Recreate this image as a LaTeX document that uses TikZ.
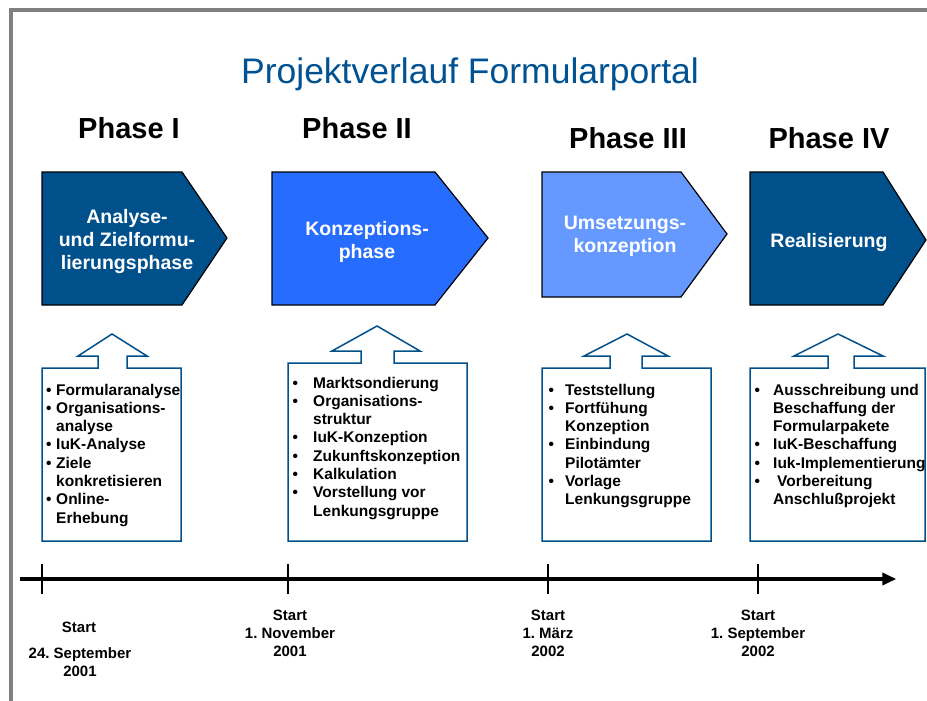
\documentclass[tikz,border=0pt]{standalone}
\usepackage{fontspec}
\setmainfont{Liberation Sans}
\usetikzlibrary{arrows.meta}
\definecolor{phasedark}{RGB}{0,80,140}
\definecolor{phasemid}{RGB}{38,108,255}
\definecolor{phaselight}{RGB}{102,153,255}
\definecolor{titleblue}{RGB}{0,82,147}
\definecolor{framegray}{RGB}{128,128,128}
\frenchspacing

\begin{document}
\begin{tikzpicture}[x=1pt,y=-1pt]
                    \tikzstyle{chevron}=[draw=black,line width=1.2pt,line join=miter]
                    \tikzstyle{callout}=[draw=phasedark,line width=1.5pt,line join=miter]
                    \tikzstyle{phasetext}=[text=white,align=center,inner sep=0pt,font=\fontsize{19.5}{23}\selectfont\bfseries]
                    \tikzstyle{phasehead}=[anchor=base,inner sep=0pt,font=\fontsize{29}{29}\selectfont\bfseries]
                    \tikzstyle{listtext}=[anchor=base west,inner sep=0pt,font=\fontsize{15.5}{18.3}\selectfont\bfseries]
                    \tikzstyle{datetext}=[anchor=base,inner sep=0pt,font=\fontsize{15}{18}\selectfont\bfseries]
                    \tikzstyle{tick}=[line width=1.5pt]

                    \useasboundingbox (0,0) rectangle (927,701);
                    \fill [white] (0,0) rectangle (927,701);
                    \draw [line width=4pt,framegray] (9,10.3) -- (927,10.3);
                    \draw [line width=4pt,framegray] (11,8.3) -- (11,701);

                    \node (title) at (470,83.3) [anchor=base,inner sep=0pt,text=titleblue,font=\fontsize{35.5}{35.5}\selectfont] {Projektverlauf Formularportal};

                    \node (h1) at (129,139) [phasehead] {Phase I};
                    \node (h2) at (357,139) [phasehead] {Phase II};
                    \node (h3) at (628,148) [phasehead] {Phase III};
                    \node (h4) at (829,148) [phasehead] {Phase IV};

                    % phase arrows
                    \draw [chevron,fill=phasedark] (42,172) -- (182,172) -- (227,238) -- (182,305) -- (42,305) -- cycle;
                    \draw [chevron,fill=phasemid] (272,172) -- (435,172) -- (488,238) -- (435,305) -- (272,305) -- cycle;
                    \draw [chevron,fill=phaselight] (542,172) -- (681,172) -- (727,234) -- (681,297) -- (542,297) -- cycle;
                    \draw [chevron,fill=phasedark] (750,172) -- (883,172) -- (926,240) -- (883,305) -- (750,305) -- cycle;

                    \node (p1) at (127,241) [phasetext] {Analyse-\\und Zielformu-\\lierungsphase};
                    \node (p2) at (367,242) [phasetext] {Konzeptions-\\phase};
                    \node (p3) at (625,236) [phasetext] {Umsetzungs-\\konzeption};
                    \node (p4) at (829,247) [phasetext,anchor=base] {Realisierung};

                    % boxes with up arrows
                    \draw [callout] (42,368) -- (42,541) -- (181,541) -- (181,368) -- (127,368) -- (127,356) -- (147,356) -- (112,334) -- (78,356) -- (98,356) -- (98,368) -- cycle;
                    \draw [callout] (288,363) -- (288,541) -- (467,541) -- (467,363) -- (394,363) -- (394,351) -- (420,351) -- (377,326) -- (332,351) -- (361,351) -- (361,363) -- cycle;
                    \draw [callout] (542,368) -- (542,541) -- (711,541) -- (711,368) -- (642,368) -- (642,356) -- (668,356) -- (627,334) -- (584,356) -- (610,356) -- (610,368) -- cycle;
                    \draw [callout] (750,368) -- (750,541) -- (925,541) -- (925,368) -- (854,368) -- (854,356) -- (883,356) -- (838,334) -- (794,356) -- (828,356) -- (828,368) -- cycle;

                    \node (l1) at (46,395) [listtext] {\begin{tabular}[t]{@{}p{10pt}@{}l@{}}
                      \textbullet & Formularanalyse\\
                      \textbullet & Organisations-\\
                       & analyse\\
                      \textbullet & IuK-Analyse\\
                      \textbullet & Ziele\\
                       & konkretisieren\\
                      \textbullet & Online-\\
                       & Erhebung
                    \end{tabular}};
                    \node (l2) at (292.5,388) [listtext] {\begin{tabular}[t]{@{}p{20.5pt}@{}l@{}}
                      \textbullet & Marktsondierung\\
                      \textbullet & Organisations-\\
                       & struktur\\
                      \textbullet & IuK-Konzeption\\
                      \textbullet & Zukunftskonzeption\\
                      \textbullet & Kalkulation\\
                      \textbullet & Vorstellung vor\\
                       & Lenkungsgruppe
                    \end{tabular}};
                    \node (l3) at (548.5,395) [listtext] {\begin{tabular}[t]{@{}p{16.5pt}@{}l@{}}
                      \textbullet & Teststellung\\
                      \textbullet & Fortfühung\\
                       & Konzeption\\
                      \textbullet & Einbindung\\
                       & Pilotämter\\
                      \textbullet & Vorlage\\
                       & Lenkungsgruppe
                    \end{tabular}};
                    \node (l4) at (754.5,395) [listtext] {\begin{tabular}[t]{@{}p{18.5pt}@{}l@{}}
                      \textbullet & Ausschreibung und\\
                       & Beschaffung der\\
                       & Formularpakete\\
                      \textbullet & IuK-Beschaffung\\
                      \textbullet & Iuk-Implementierung\\
                      \textbullet & \hspace*{4pt}Vorbereitung\\
                       & Anschlußprojekt
                    \end{tabular}};

                    % time line
                    \node (t0) at (19,579) [inner sep=0pt] {};
                    \node (t1) at (897,579) [inner sep=0pt] {};
                    \draw [line width=4pt,-{Triangle[length=14pt,width=12pt]}] (t0) -- (t1);

                    \coordinate (m1a) at (42,564);
                    \coordinate (m1b) at (42,594);
                    \coordinate (m2a) at (288,564);
                    \coordinate (m2b) at (288,594);
                    \coordinate (m3a) at (548,564);
                    \coordinate (m3b) at (548,594);
                    \coordinate (m4a) at (758,564);
                    \coordinate (m4b) at (758,594);
                    \draw [tick] (m1a) -- (m1b);
                    \draw [tick] (m2a) -- (m2b);
                    \draw [tick] (m3a) -- (m3b);
                    \draw [tick] (m4a) -- (m4b);

                    \node (d1a) at (79,632) [datetext] {Start};
                    \node (d1b) at (80,658) [datetext] {\begin{tabular}[t]{@{}c@{}}24. September\\2001\end{tabular}};
                    \node (d2) at (290,620) [datetext] {\begin{tabular}[t]{@{}c@{}}Start\\1. November\\2001\end{tabular}};
                    \node (d3) at (548,620) [datetext] {\begin{tabular}[t]{@{}c@{}}Start\\1. März\\2002\end{tabular}};
                    \node (d4) at (758,620) [datetext] {\begin{tabular}[t]{@{}c@{}}Start\\1. September\\2002\end{tabular}};
\end{tikzpicture}
\end{document}
